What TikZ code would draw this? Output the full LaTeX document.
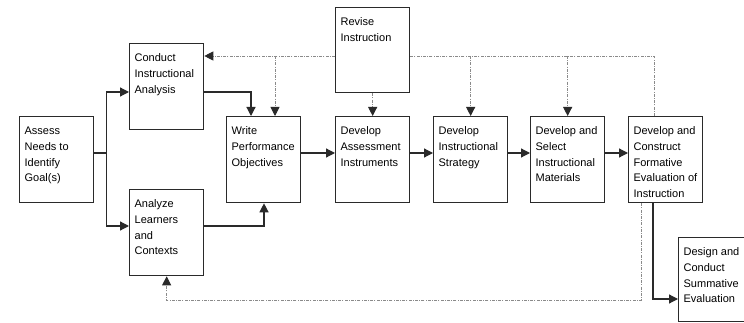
\documentclass[tikz,border=0pt]{standalone}
\usepackage{fontspec}
\setmainfont{Liberation Sans}
\usetikzlibrary{arrows.meta,calc}
\definecolor{ink}{HTML}{2A2A2A}
\definecolor{dash}{HTML}{8A8A8A}
\newcommand{\bt}[2][72]{\parbox[t][#1pt][t]{70pt}{\raggedright\leftskip=3pt\strut #2}}
\tikzset{
  box/.style={draw=ink, line width=1.3pt, anchor=north west, inner xsep=2pt, inner ysep=7pt,
    text=black, font=\fontsize{11}{15.7}\selectfont},
  arr/.style={draw=ink, line width=1.2pt, -{Triangle[length=9pt,width=9pt]}},
  plain/.style={draw=ink, line width=1.2pt},
  fb/.style={draw=dash, line width=0.9pt, dash pattern=on 3pt off 1.2pt on 1pt off 1.2pt},
  fbarr/.style={fb, -{Triangle[length=9pt,width=9pt,color=ink,fill=ink]}}
}
\begin{document}
\begin{tikzpicture}[x=1pt,y=-1pt]
\useasboundingbox (0,0) rectangle (744,323);
\clip (0,0) rectangle (744,323);
\fill[white] (0,0) rectangle (744,323);

\node[box] (assess)    at (19,116)  {\bt{Assess\\Needs to\\Identify\\Goal(s)}};
\node[box] (conduct)   at (129,43)  {\bt{Conduct\\Instructional\\Analysis}};
\node[box] (analyze)   at (129,189) {\bt{Analyze\\Learners\\and\\Contexts}};
\node[box] (write)     at (226,116) {\bt{Write\\Performance\\Objectives}};
\node[box] (revise)    at (335,7)   {\bt[71]{Revise\\Instruction}};
\node[box] (instr)     at (335,116) {\bt{Develop\\Assessment\\Instruments}};
\node[box] (strategy)  at (433,116) {\bt{Develop\\Instructional\\Strategy}};
\node[box] (materials) at (530,116) {\bt{Develop and\\Select\\Instructional\\Materials}};
\node[box] (formative) at (628,116) {\bt{Develop and\\Construct\\Formative\\Evaluation of\\Instruction}};
\node[box] (summative) at (678,237) {\bt[70]{Design and\\Conduct\\Summative\\Evaluation}};

% solid flow
\draw[plain] ($(assess.north east)+(0,37)$) -- ++(12,0) coordinate (split);
\draw[arr] (split) |- ($(conduct.north west)+(0,49)$);
\draw[arr] (split) |- ($(analyze.north west)+(0,37)$);
\draw[arr] ($(conduct.north east)+(0,49)$) -| ($(write.north west)+(25,0)$);
\draw[arr] ($(analyze.north east)+(0,37)$) -| ($(write.south west)+(38,0)$);
\draw[arr] ($(write.north east)+(0,37)$) -- ($(instr.north west)+(0,37)$);
\draw[arr] ($(instr.north east)+(0,37)$) -- ($(strategy.north west)+(0,37)$);
\draw[arr] ($(strategy.north east)+(0,37)$) -- ($(materials.north west)+(0,37)$);
\draw[arr] ($(materials.north east)+(0,37)$) -- ($(formative.north west)+(0,37)$);
\draw[arr] ($(formative.south west)+(25,0)$) |- ($(summative.north west)+(0,62)$);

% feedback (dashed)
\coordinate (lt) at ($(revise.north west)+(0,49)$);
\coordinate (rt) at ($(revise.north east)+(0,49)$);
\draw[fbarr] (lt) -- ($(conduct.north east)+(0,13)$);
\draw[fbarr] (lt -| {$(write.north west)+(49,0)$}) -- ($(write.north west)+(49,0)$);
\draw[fbarr] (revise.south) -- (instr.north);
\draw[fb] ($(formative.north west)+(26,0)$) |- (rt);
\draw[fbarr] (rt -| strategy.north) -- (strategy.north);
\draw[fbarr] (rt -| materials.north) -- (materials.north);
\draw[fbarr] ($(formative.south west)+(13,0)$) -- ++(0,97) -| (analyze.south);
\end{tikzpicture}
\end{document}
